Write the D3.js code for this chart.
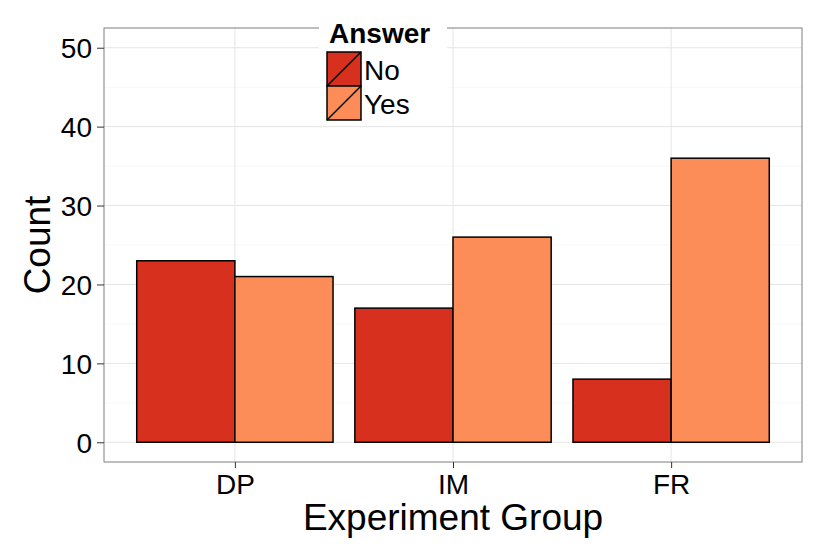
<!DOCTYPE html>
<html>
<head>
<meta charset="utf-8">
<script src="https://cdn.jsdelivr.net/npm/d3@7"></script>
<style>
  body { margin: 0; background: #fff; }
  svg { font-family: "Liberation Sans", Arial, sans-serif; }
</style>
</head>
<body>
<div id="chart"></div>
<script>
'use strict';

var groups = ["DP", "IM", "FR"];
var answers = ["No", "Yes"];
var noCounts = [23, 17, 8];
var yesCounts = [21, 26, 36];
var yTicks = [0, 10, 20, 30, 40, 50];
var yMinor = [5, 15, 25, 35, 45];
var fills = ["#D7301F", "#FC8D59"];

var width = 830, height = 554;
var panelLeft = 104, panelRight = 802, panelTop = 28, panelBottom = 462;

var svg = d3.select("#chart").append("svg")
    .attr("width", width)
    .attr("height", height);

// discrete x: ggplot-style expansion of 0.6 on each side
var x = d3.scaleLinear().domain([0.4, groups.length + 0.6]).range([panelLeft, panelRight]);
var y = d3.scaleLinear().domain([-2.5, 52.5]).range([panelBottom, panelTop]);

var rows = groups.map(function (g, i) {
    return { group: g, pos: i + 1, values: [noCounts[i], yesCounts[i]] };
});

// panel grid
svg.append("g").selectAll("line").data(yMinor).enter().append("line")
    .attr("x1", panelLeft).attr("x2", panelRight)
    .attr("y1", function (d) { return y(d); })
    .attr("y2", function (d) { return y(d); })
    .attr("stroke", "#F7F7F7").attr("stroke-width", 1);

svg.append("g").selectAll("line").data(yTicks).enter().append("line")
    .attr("x1", panelLeft).attr("x2", panelRight)
    .attr("y1", function (d) { return y(d); })
    .attr("y2", function (d) { return y(d); })
    .attr("stroke", "#E5E5E5").attr("stroke-width", 1);

svg.append("g").selectAll("line").data(rows).enter().append("line")
    .attr("y1", panelTop).attr("y2", panelBottom)
    .attr("x1", function (d) { return x(d.pos); })
    .attr("x2", function (d) { return x(d.pos); })
    .attr("stroke", "#E5E5E5").attr("stroke-width", 1);

// bars (dodged, total width 0.9)
var barW = 0.45;
var g = svg.append("g").selectAll("g").data(rows).enter().append("g");
g.selectAll("rect").data(function (d) {
    return d.values.map(function (v, j) { return { pos: d.pos, j: j, v: v }; });
}).enter().append("rect")
    .attr("x", function (d) { return x(d.pos - 0.45 + d.j * barW); })
    .attr("width", function (d) { return x(d.pos + barW) - x(d.pos); })
    .attr("y", function (d) { return y(d.v); })
    .attr("height", function (d) { return y(0) - y(d.v); })
    .attr("fill", function (d) { return fills[d.j]; })
    .attr("stroke", "#000")
    .attr("stroke-width", 1.5);

// panel border
svg.append("rect")
    .attr("x", panelLeft).attr("y", panelTop)
    .attr("width", panelRight - panelLeft).attr("height", panelBottom - panelTop)
    .attr("fill", "none").attr("stroke", "#7F7F7F").attr("stroke-width", 1);

// y axis
var yAxis = svg.append("g").attr("transform", "translate(" + panelLeft + ",0)")
    .call(d3.axisLeft(y).tickValues(yTicks).tickSize(7).tickPadding(5));
yAxis.select(".domain").remove();
yAxis.selectAll("line").attr("stroke", "#333");
yAxis.selectAll("text").attr("font-size", 28).attr("fill", "#000")
    .attr("font-family", "Liberation Sans, Arial, sans-serif")
    .attr("dy", "0.36em");

// x axis
var xAxis = svg.append("g").attr("transform", "translate(0," + panelBottom + ")")
    .call(d3.axisBottom(x).tickValues([1, 2, 3]).tickSize(6).tickPadding(4)
        .tickFormat(function (d) { return groups[d - 1]; }));
xAxis.select(".domain").remove();
xAxis.selectAll("line").attr("stroke", "#333");
xAxis.selectAll("text").attr("font-size", 28).attr("fill", "#000")
    .attr("font-family", "Liberation Sans, Arial, sans-serif")
    .attr("dy", "0.78em");

// axis titles
svg.append("text")
    .attr("x", (panelLeft + panelRight) / 2).attr("y", 530)
    .attr("text-anchor", "middle")
    .attr("font-size", 37)
    .text("Experiment Group");

svg.append("text")
    .attr("transform", "translate(50," + ((panelTop + panelBottom) / 2) + ") rotate(-90)")
    .attr("text-anchor", "middle")
    .attr("font-size", 37)
    .text("Count");

// legend
var legend = svg.append("g");
legend.append("rect")
    .attr("x", 319).attr("y", 14)
    .attr("width", 128).attr("height", 112)
    .attr("fill", "#fff");
legend.append("text")
    .attr("x", 329).attr("y", 43)
    .attr("font-size", 28).attr("font-weight", "bold")
    .text("Answer");

var keys = legend.selectAll("g.key").data(answers).enter().append("g")
    .attr("class", "key")
    .attr("transform", function (d, i) { return "translate(327," + (52 + i * 34) + ")"; });
keys.append("rect")
    .attr("width", 34).attr("height", 34)
    .attr("fill", function (d, i) { return fills[i]; })
    .attr("stroke", "#000").attr("stroke-width", 1.5);
keys.append("line")
    .attr("x1", 0).attr("y1", 34).attr("x2", 34).attr("y2", 0)
    .attr("stroke", "#000").attr("stroke-width", 1.5);
keys.append("text")
    .attr("x", 37).attr("y", 28)
    .attr("font-size", 28)
    .text(function (d) { return d; });
</script>
</body>
</html>
